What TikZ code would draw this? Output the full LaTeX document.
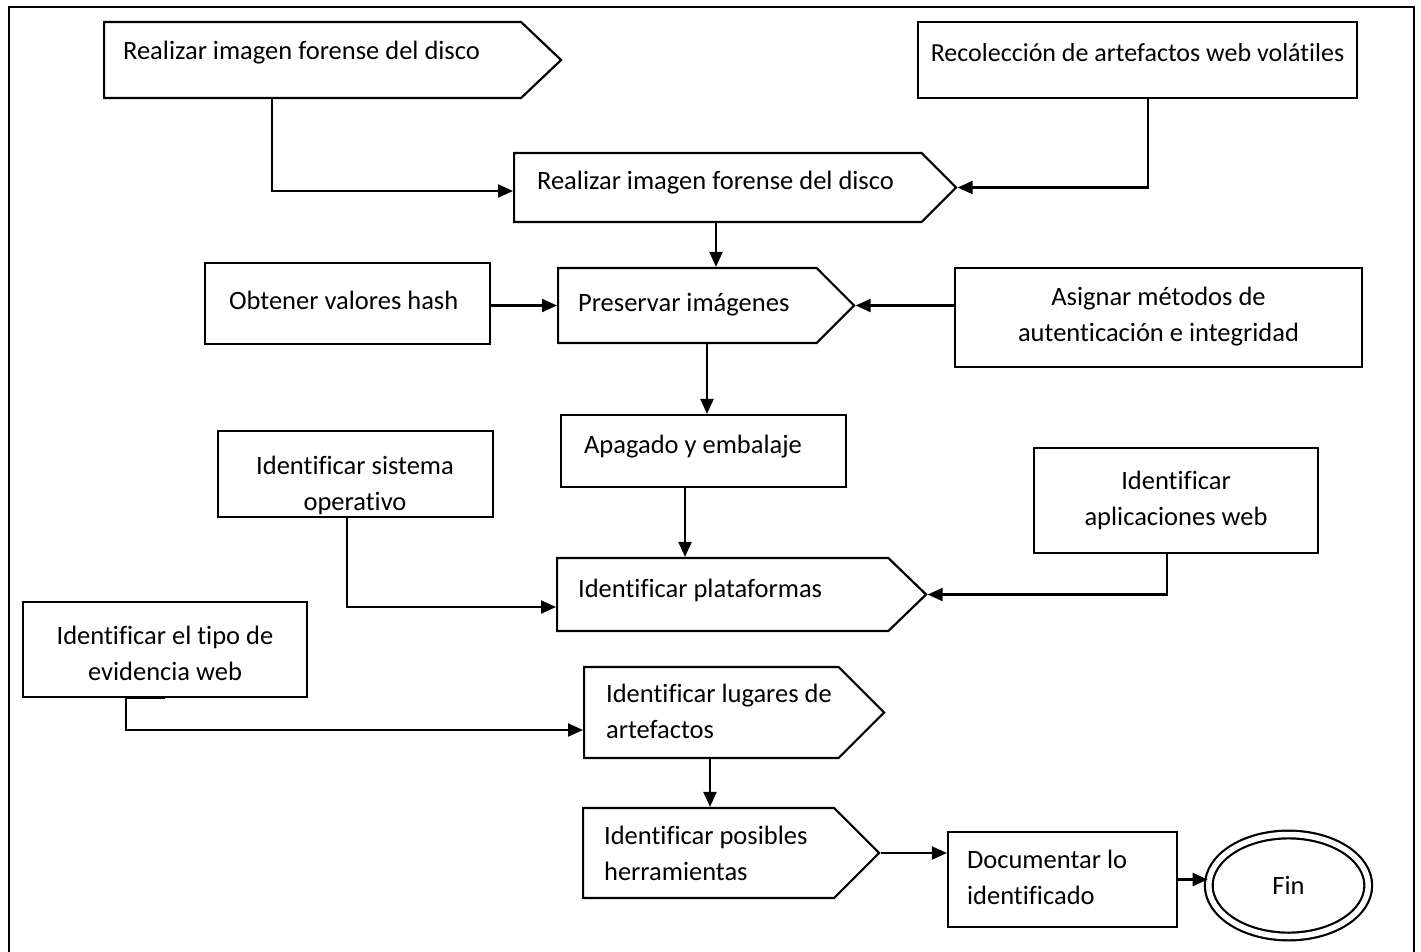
\documentclass[tikz,border=0pt]{standalone}
\usepackage{fontspec}
\setmainfont{Carlito}[Ligatures=NoCommon]
\usetikzlibrary{shapes.symbols,shapes.geometric,arrows.meta,calc}
\begin{document}
\begin{tikzpicture}[x=1pt,y=-1pt,line width=2.2pt,
  box/.style={draw, rectangle, inner sep=0pt},
  tag/.style={draw, shape=signal, signal to=east, signal from=nowhere,
              signal pointer angle=#1, inner sep=0pt, anchor=west},
  tag/.default=90,
  txt/.style={font=\fontsize{#1}{36}\selectfont, inner sep=0pt},
  txt/.default=26.5,
  arr/.style={-{Triangle[length=15pt,width=13pt]}}]
\useasboundingbox (0,0) rectangle (1421,951);
% outer frame
\draw (9,7) rectangle (1414,990);

% shapes (arrow-shaped steps are placed by their left edge)
\node[tag=87, minimum width=457pt, minimum height=76pt] (p1) at (103,60) {};
\node[box, minimum width=439pt, minimum height=76pt] (r2) at (1137.5,60) {};
\node[tag, minimum width=442pt, minimum height=69pt] (p3) at (513,187.5) {};
\node[box, minimum width=285pt, minimum height=81pt] (r4) at (347.5,303.5) {};
\node[tag, minimum width=296pt, minimum height=75pt] (p5) at (557,305.5) {};
\node[box, minimum width=407pt, minimum height=99pt] (r6) at (1158.5,317.5) {};
\node[box, minimum width=285pt, minimum height=72pt] (r7) at (703.5,451) {};
\node[box, minimum width=275pt, minimum height=86pt] (r8) at (355.5,474) {};
\node[box, minimum width=284pt, minimum height=105pt] (r9) at (1176,500.5) {};
\node[tag=88, minimum width=369pt, minimum height=73pt] (p10) at (556,594.5) {};
\node[box, minimum width=284pt, minimum height=95pt] (r11) at (165,649.5) {};
\node[tag, minimum width=300pt, minimum height=91pt] (p12) at (583,712.5) {};
\node[tag, minimum width=296pt, minimum height=90pt] (p13) at (582,853) {};
\node[box, minimum width=229pt, minimum height=95pt] (r14) at (1062.5,879.5) {};
\node[draw, ellipse, double, double distance=5.5pt, minimum width=159.5pt,
      minimum height=102pt, txt] (fin) at (1288.5,885.5) {Fin};

% labels
\node[txt, anchor=west] (t1) at (122,53) {Realizar imagen forense del disco};
\node[txt=26] (t2) at (1137.5,53) {Recolección de artefactos web volátiles};
\node[txt, anchor=west] (t3) at (536,183) {Realizar imagen forense del disco};
\node[txt, anchor=west] (t4) at (228,300) {Obtener valores hash};
\node[txt, anchor=west] (t5) at (577,305) {Preservar imágenes};
\node[txt, align=center] (t6) at (1158.5,317) {Asignar métodos de\\autenticación e integridad};
\node[txt, anchor=west] (t7) at (583,447) {Apagado y embalaje};
\node[txt, align=center] (t8) at (355,485) {Identificar sistema\\operativo};
\node[txt, align=center] (t9) at (1176,500) {Identificar\\aplicaciones web};
\node[txt, anchor=west] (t10) at (577,590) {Identificar plataformas};
\node[txt, align=center] (t11) at (165,653) {Identificar el tipo de\\evidencia web};
\node[txt, anchor=west, align=left] (t12) at (605,711) {Identificar lugares de\\artefactos};
\node[txt, anchor=west, align=left] (t13) at (603,853) {Identificar posibles\\herramientas};
\node[txt, anchor=west, align=left] (t14) at (966,877) {Documentar lo\\identificado};

% connector routing points
\coordinate (c1) at (272,191);
\coordinate (c2) at (1148,0);
\coordinate (c3) at (716,0);
\coordinate (c6) at (707,0);
\coordinate (c7) at (685,0);
\coordinate (c8) at (347,607);
\coordinate (c9) at (1167,0);
\coordinate (c10a) at (165,0);
\coordinate (c10) at (126,730);
\coordinate (c11) at (710,0);

% connectors
\draw[arr] (p1.south -| c1) -- (c1) -- (c1 -| p3.west);
\draw[arr] (r2.south -| c2) |- (p3.east);
\draw[arr] (p3.south -| c3) -- (p5.north -| c3);
\draw[arr] (r4.east |- p5.west) -- (p5.west);
\draw[arr] (r6.west |- p5.east) -- (p5.east);
\draw[arr] (p5.south -| c6) -- (r7.north -| c6);
\draw[arr] (r7.south -| c7) -- (p10.north -| c7);
\draw[arr] (r8.south -| c8) -- (c8) -- (c8 -| p10.west);
\draw[arr] (r9.south -| c9) |- (p10.east);
\draw[arr] (r11.south -| c10a) -- (r11.south -| c10) -- (c10) -- (c10 -| p12.west);
\draw[arr] (p12.south -| c11) -- (p13.north -| c11);
\draw[arr] (p13.east) -- (p13.east -| r14.west);
\draw[arr] (r14.east) -- (r14.east -| fin.west);
\end{tikzpicture}
\end{document}
